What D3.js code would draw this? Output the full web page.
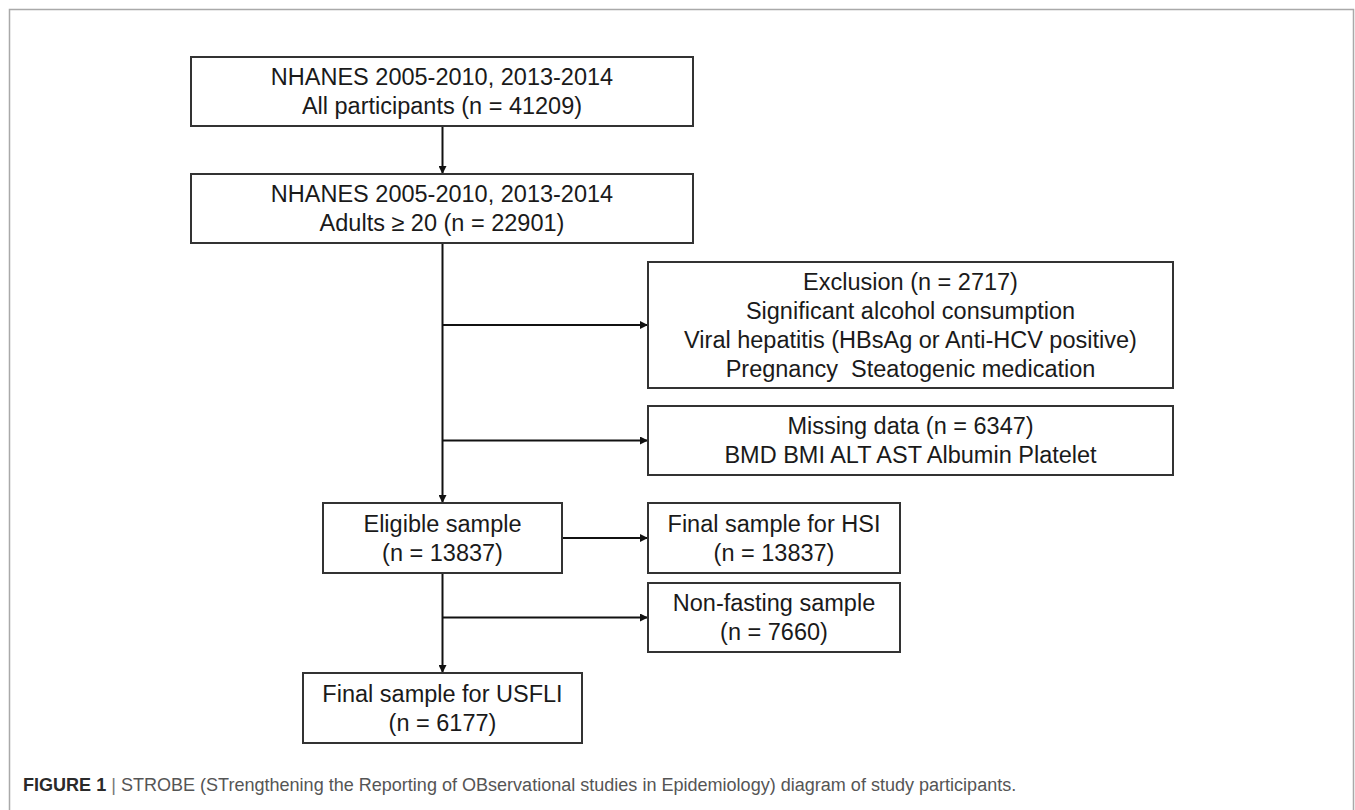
<!DOCTYPE html>
<html>
<head>
<meta charset="utf-8">
<script src="https://cdn.jsdelivr.net/npm/d3@7"></script>
<style>
  body { margin: 0; background: #fff; }
  text { font-family: "Liberation Sans", Arial, sans-serif; white-space: pre; }
</style>
</head>
<body>
<svg id="chart" width="1355" height="810"></svg>
<script>

// stage titles, counts and extra lines of each box
var stageTitles = ["NHANES 2005-2010, 2013-2014", "NHANES 2005-2010, 2013-2014", "Exclusion", "Missing data",
                   "Eligible sample", "Final sample for HSI", "Non-fasting sample", "Final sample for USFLI"];
var stageSubtitles = ["All participants", "Adults \u2265 20", "", "", "", "", "", ""];
var stageCounts = [41209, 22901, 2717, 6347, 13837, 13837, 7660, 6177];
var exclusionReasons = ["Significant alcohol consumption", "Viral hepatitis (HBsAg or Anti-HCV positive)", "Pregnancy  Steatogenic medication"];
var missingItems = ["BMD BMI ALT AST Albumin Platelet"];

// which box leads to which: type "down" = main flow, "side" = branch off to the right
var linkFrom = [0, 1, 1, 1, 4, 4, 4];
var linkTo   = [1, 4, 2, 3, 7, 5, 6];
var linkType = ["down", "down", "side", "side", "down", "side", "side"];

var captionLabel = "FIGURE 1";
var captionText = "STROBE (STrengthening the Reporting of OBservational studies in Epidemiology) diagram of study participants.";

// build the lines of every box from the arrays above
function boxLines(i) {
    var n = "(n = " + stageCounts[i] + ")";
    if (i == 2) return [stageTitles[i] + " " + n].concat(exclusionReasons);
    if (i == 3) return [stageTitles[i] + " " + n].concat(missingItems);
    if (stageSubtitles[i] != "") return [stageTitles[i], stageSubtitles[i] + " " + n];
    return [stageTitles[i], n];
}

// layout (pixels): box edges
var boxLayout = [
    {x0: 191, x1: 693, y0: 57,  y1: 126},
    {x0: 191, x1: 693, y0: 174, y1: 243},
    {x0: 648, x1: 1173, y0: 262, y1: 388},
    {x0: 648, x1: 1173, y0: 406, y1: 475},
    {x0: 323, x1: 562, y0: 503, y1: 573},
    {x0: 648, x1: 900, y0: 503, y1: 573},
    {x0: 648, x1: 900, y0: 583, y1: 652},
    {x0: 303, x1: 582, y0: 673, y1: 743}
];
var mainX = 442.5;
var lineGap = 29;
var fontSize = 23.5;

var svg = d3.select("#chart");

// light frame round the figure (open at the bottom)
svg.append("path")
    .attr("d", "M9.5,812 V9.5 H1353.5 V812")
    .attr("fill", "none")
    .attr("stroke", "#a9a9a9")
    .attr("stroke-width", 1.5);

var defs = svg.append("defs");
defs.append("marker")
    .attr("id", "arrow")
    .attr("viewBox", "0 0 10 10")
    .attr("refX", 10).attr("refY", 5)
    .attr("markerWidth", 8).attr("markerHeight", 8)
    .attr("markerUnits", "userSpaceOnUse")
    .attr("orient", "auto")
    .append("path")
    .attr("d", "M0,0 L10,5 L0,10 z")
    .attr("fill", "#111");

var boxes = stageTitles.map((t, i) => ({id: i, lines: boxLines(i), b: boxLayout[i]}));

// links
var links = linkFrom.map((f, k) => ({from: boxes[f], to: boxes[linkTo[k]], type: linkType[k]}));

svg.append("g").selectAll("line")
    .data(links)
    .join("line")
    .attr("x1", d => d.type == "down" ? mainX : (d.from.id == 4 && d.to.id == 5 ? d.from.b.x1 : mainX))
    .attr("y1", d => d.type == "down" ? d.from.b.y1 : (d.to.b.y0 + d.to.b.y1) / 2)
    .attr("x2", d => d.type == "down" ? mainX : d.to.b.x0)
    .attr("y2", d => d.type == "down" ? d.to.b.y0 : (d.to.b.y0 + d.to.b.y1) / 2)
    .attr("stroke", "#111")
    .attr("stroke-width", 2)
    .attr("marker-end", "url(#arrow)");

// boxes
var g = svg.append("g").selectAll("g")
    .data(boxes)
    .join("g");

g.append("rect")
    .attr("x", d => d.b.x0)
    .attr("y", d => d.b.y0)
    .attr("width", d => d.b.x1 - d.b.x0)
    .attr("height", d => d.b.y1 - d.b.y0)
    .attr("fill", "#fff")
    .attr("stroke", "#333")
    .attr("stroke-width", 2);

g.each(function(d) {
    var cx = (d.b.x0 + d.b.x1) / 2;
    var cy = (d.b.y0 + d.b.y1) / 2;
    var first = cy - (d.lines.length - 1) * lineGap / 2 + fontSize * 0.36;
    d3.select(this).selectAll("text")
        .data(d.lines)
        .join("text")
        .attr("x", cx)
        .attr("y", (l, j) => first + j * lineGap)
        .attr("text-anchor", "middle")
        .attr("font-size", fontSize)
        .attr("fill", "#1a1a1a")
        .text(l => l);
});

// caption, sized so it ends where the reference one ends
var cap = svg.append("text")
    .attr("x", 23)
    .attr("y", 791)
    .attr("font-size", 16);
cap.append("tspan").attr("font-weight", "bold").attr("fill", "#2a2a2a").text(captionLabel);
cap.append("tspan").attr("fill", "#777").text(" | ");
cap.append("tspan").attr("fill", "#555").text(captionText);

var w = cap.node().getComputedTextLength();
cap.attr("font-size", 16 * 994 / w);

</script>
</body>
</html>
